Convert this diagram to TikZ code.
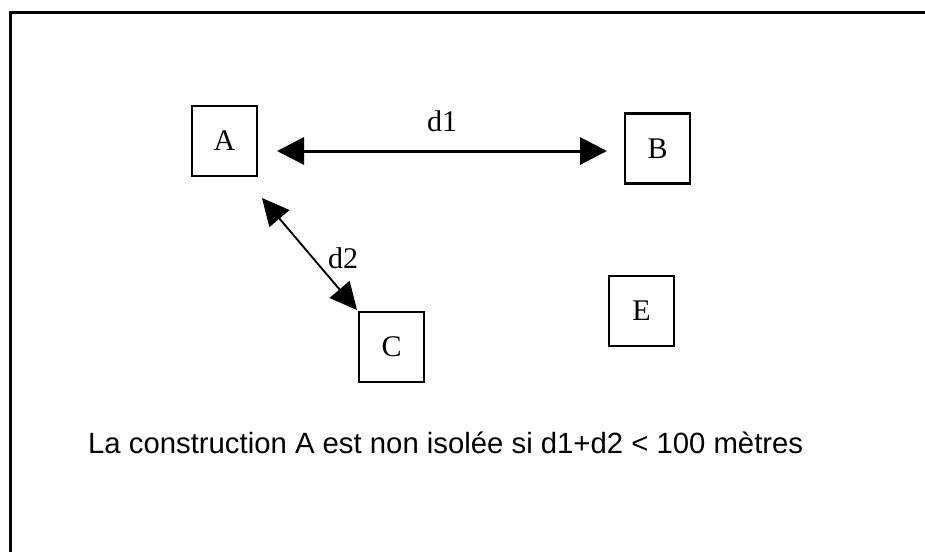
\documentclass[tikz,border=0pt]{standalone}
\usepackage{fontspec}
\setmainfont{Liberation Serif}
\newfontfamily\sansf{Liberation Sans}
\usetikzlibrary{arrows.meta}
\begin{document}
\begin{tikzpicture}[x=1pt,y=-1pt,
  bldg/.style={draw, line width=2.4pt, minimum width=65pt, minimum height=70pt, inner sep=0pt, font=\fontsize{30}{36}\selectfont},
  dlabel/.style={inner sep=0pt, font=\fontsize{30}{36}\selectfont},
  bigarrow/.style={line width=3pt, {Triangle[length=27pt,width=27pt]}-{Triangle[length=27pt,width=27pt]}},
  smallarrow/.style={line width=1.9pt, {Triangle[length=27pt,width=26pt]}-{Triangle[length=27pt,width=26pt]}}]
\useasboundingbox (0,0) rectangle (925,551);
\clip (0,0) rectangle (925,551);
\draw[line width=3pt] (10,570) -- (10,13) -- (940,13);
\node[bldg] (A) at (224.5,141) {A};
\node[bldg] (B) at (657.5,148.5) {B};
\node[bldg] (C) at (391.5,347) {C};
\node[bldg] (E) at (641.5,311) {E};
\coordinate (d1l) at (277,151);
\coordinate (d1r) at (607,151);
\coordinate (d2a) at (262,198);
\coordinate (d2c) at (357,310);
\draw[bigarrow] (d1l) -- (d1r);
\draw[smallarrow] (d2a) -- (d2c);
\node[dlabel] (l1) at (442,121) {d1};
\node[dlabel] (l2) at (343,258) {d2};
\node[inner sep=0pt, anchor=base west, font=\sansf\fontsize{29.3}{34}\selectfont] (txt) at (88,453) {La construction A est non isolée si d1+d2 < 100 mètres};
\end{tikzpicture}
\end{document}
